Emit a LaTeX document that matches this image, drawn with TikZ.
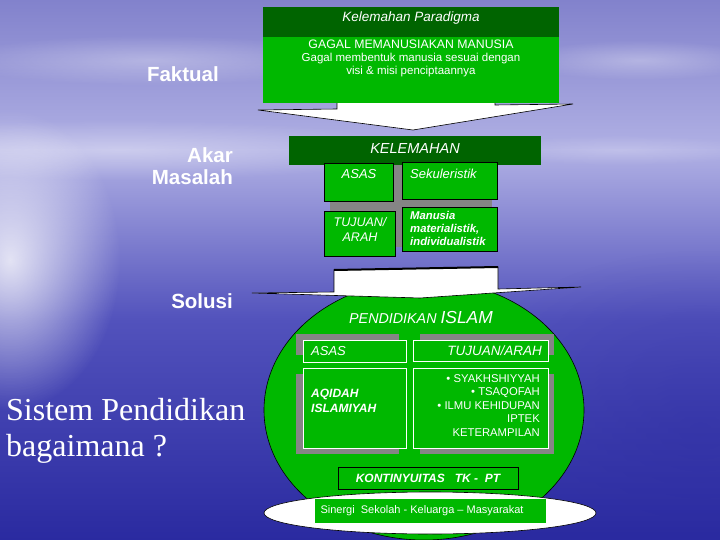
\documentclass[tikz,border=0pt]{standalone}
\usepackage{fontspec}
\setmainfont{Liberation Sans}
\newfontfamily\serifx{Liberation Serif}
\usetikzlibrary{fadings}
\tikzfading[name=myglow, inner color=transparent!0, outer color=transparent!100]
\definecolor{dkgreen}{HTML}{006400}
\definecolor{ltgreen}{HTML}{00B800}
\definecolor{shadowgray}{HTML}{858585}
\definecolor{skytop}{HTML}{8282CC}
\definecolor{skyhor}{HTML}{B0B0E4}
\definecolor{seamid}{HTML}{5252BC}
\definecolor{seabot}{HTML}{2A2AA0}
\tikzset{
  txt/.style={text=white, inner sep=0pt},
  greenbox/.style={fill=ltgreen, draw=black, line width=0.6pt},
  innerbox/.style={draw=white, line width=0.7pt},
  arrowshape/.style={fill=white, draw=black, line width=0.6pt},
  sidelabel/.style={text=white, inner sep=0pt, font=\bfseries\fontsize{20.5}{22}\selectfont, align=right}
}
\begin{document}
\begin{tikzpicture}[x=1pt,y=-1pt]
\useasboundingbox (0,0) rectangle (720,540);
% background
\shade[top color=skytop, bottom color=skyhor] (0,0) rectangle (720,150);
\shade[top color=skyhor, bottom color=seamid] (0,150) rectangle (720,320);
\shade[top color=seamid, bottom color=seabot] (0,320) rectangle (720,540);
\fill[white, opacity=0.8, path fading=myglow] (10,260) ellipse (110 and 150);
\fill[white, opacity=0.35, path fading=myglow] (120,150) ellipse (300 and 30);
\fill[white, opacity=0.3, path fading=myglow] (150,60) ellipse (200 and 25);
\fill[white, opacity=0.3, path fading=myglow] (640,60) ellipse (120 and 20);
\fill[white, opacity=0.2, path fading=myglow] (620,150) ellipse (140 and 15);
\fill[seabot, opacity=0.4, path fading=myglow] (700,430) ellipse (260 and 180);

% top block: Kelemahan Paradigma
\draw[arrowshape] (337,100) -- (495,100) -- (495,105) -- (573,104) -- (413,130) -- (258,110) -- (337,109) -- cycle;
\fill[dkgreen] (263,7) rectangle (559,37);
\fill[ltgreen] (263,37) rectangle (559,103);
\node[txt, font=\itshape\fontsize{13.5}{14}\selectfont] (kp) at (411,18.5) {Kelemahan Paradigma};
\node[txt, font=\fontsize{12.3}{13}\selectfont] (gagal) at (411,44) {GAGAL MEMANUSIAKAN MANUSIA};
\node[txt, align=center, font=\fontsize{11.5}{13}\selectfont] (gagal2) at (411,65.5) {Gagal membentuk manusia sesuai dengan\\visi \& misi penciptaannya};

% KELEMAHAN block
\fill[shadowgray] (330,160) rectangle (492,247);
\fill[dkgreen] (289,136) rectangle (541,165);
\node[txt, font=\itshape\fontsize{14.5}{16}\selectfont] (kel) at (415,149) {KELEMAHAN};
\draw[greenbox] (324,163) rectangle (393,201);
\draw[greenbox] (402,162) rectangle (497,199);
\draw[greenbox] (324,211) rectangle (395,256);
\draw[greenbox] (402,207) rectangle (497,251);
\node[txt, font=\itshape\fontsize{13}{15}\selectfont] (asas1) at (359,174) {ASAS};
\node[txt, anchor=west, font=\itshape\fontsize{13}{15}\selectfont] (sek) at (410,174) {Sekuleristik};
\node[txt, align=center, font=\itshape\fontsize{12.5}{15}\selectfont] (tuj1) at (360,229.5) {TUJUAN/\\ARAH};
\node[txt, align=left, anchor=north west, font=\bfseries\itshape\fontsize{11.3}{12.6}\selectfont] (man) at (410,211.5) {Manusia\\materialistik,\\individualistik};

% Solution circle
\draw[fill=ltgreen, line width=0.6pt] (424,410) ellipse (160 and 130);
\draw[arrowshape] (334,270) -- (498,267) -- (498,289) -- (581,287) -- (420,298) -- (252,293) -- (334,292) -- cycle;
\draw[line width=2pt] (334,270) -- (498,267);
\node[txt, font=\itshape] (pi) at (421,318) {\fontsize{14.3}{16}\selectfont PENDIDIKAN \fontsize{17.4}{19}\selectfont ISLAM};

% shadows
\fill[shadowgray] (296,334) rectangle (399,355);
\fill[shadowgray] (296,374) rectangle (399,454);
\fill[shadowgray] (420,334) rectangle (554,355);
\fill[shadowgray] (420,374) rectangle (554,454);
% inner boxes
\draw[innerbox, fill=ltgreen] (303,340) rectangle (406,362);
\draw[innerbox, fill=ltgreen] (303,368) rectangle (406,448);
\draw[innerbox, fill=ltgreen] (413,340) rectangle (548,361);
\draw[innerbox, fill=ltgreen] (413,368) rectangle (548,448);
\node[txt, anchor=west, font=\itshape\fontsize{13}{15}\selectfont] (asas2) at (311,351) {ASAS};
\node[txt, anchor=east, font=\itshape\fontsize{13.5}{15}\selectfont] (tuj2) at (542,351) {TUJUAN/ARAH};
\node[txt, anchor=west, align=left, font=\bfseries\itshape\fontsize{12}{14.5}\selectfont] (aq) at (311,401) {AQIDAH\\ISLAMIYAH};
\node[txt, anchor=north east, align=right, font=\fontsize{11.3}{13.4}\selectfont] (bul) at (540,374.5) {• SYAKHSHIYYAH\\• TSAQOFAH\\• ILMU KEHIDUPAN\\IPTEK\\KETERAMPILAN};

\draw[greenbox] (338,467) rectangle (518,489);
\node[txt, font=\bfseries\itshape\fontsize{12}{13}\selectfont] (kont) at (428,478) {KONTINYUITAS\ \ \ TK -\ \ PT};

\draw[fill=white, line width=0.6pt] (430,513) ellipse (166 and 21);
\fill[ltgreen] (315,499) rectangle (546,523);
\node[txt, font=\fontsize{11}{12}\selectfont] (sin) at (422,511) {Sinergi\ \ Sekolah - Keluarga -- Masyarakat};

% left labels
\node[sidelabel, anchor=east] (fak) at (219,74) {Faktual};
\node[sidelabel, anchor=east, font=\bfseries\fontsize{20.5}{22.5}\selectfont] (akar) at (233,166) {Akar\\Masalah};
\node[sidelabel, anchor=east] (sol) at (233,301) {Solusi};
\node[txt, anchor=west, align=left, font=\serifx\fontsize{32}{36}\selectfont] (sis) at (6,431) {Sistem Pendidikan\\bagaimana ?};
\end{tikzpicture}
\end{document}
